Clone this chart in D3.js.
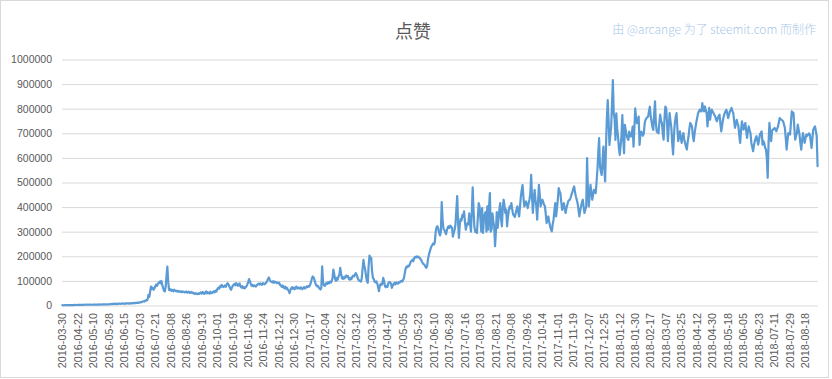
<!DOCTYPE html>
<html>
<head>
<meta charset="utf-8">
<script src="https://cdn.jsdelivr.net/npm/d3@7"></script>
<style>
  html, body { margin: 0; padding: 0; background: #fff; }
  svg { display: block; }
</style>
</head>
<body>
<svg id="chart" width="832" height="379"></svg>
<script>
const title = "点赞";
const credit = "由 @arcange 为了 steemit.com 而制作";

const yTickValues = [0, 100000, 200000, 300000, 400000, 500000, 600000, 700000, 800000, 900000, 1000000];

const xTickLabels = [
  "2016-03-30","2016-04-22","2016-05-10","2016-05-28","2016-06-15","2016-07-03","2016-07-21","2016-08-08",
  "2016-08-26","2016-09-13","2016-10-01","2016-10-19","2016-11-06","2016-11-24","2016-12-12","2016-12-30",
  "2017-01-17","2017-02-04","2017-02-22","2017-03-12","2017-03-30","2017-04-17","2017-05-05","2017-05-23",
  "2017-06-10","2017-06-28","2017-07-16","2017-08-03","2017-08-21","2017-09-08","2017-09-26","2017-10-14",
  "2017-11-01","2017-11-19","2017-12-07","2017-12-25","2018-01-12","2018-01-30","2018-02-17","2018-03-07",
  "2018-03-25","2018-04-12","2018-04-30","2018-05-18","2018-06-05","2018-06-23","2018-07-11","2018-07-29",
  "2018-08-18"
];
const labelEvery = 18;

// daily upvote counts (one per category)
const votes = [
  1200,900,1100,1400,1300,1600,1500,1800,1700,1600,
  2000,1900,2100,1800,2200,2400,2100,2300,2600,2500,
  2800,2600,3000,2700,3100,2900,3300,3000,3400,3200,
  2900,3500,3300,3600,3100,3400,3800,3500,3900,3600,
  4000,3700,4200,3900,4400,4100,3800,4500,4300,4700,
  4200,4600,4900,4400,5100,4800,6200,5400,7100,5800,
  6500,8000,6300,5900,7400,6600,8200,7000,6400,7800,
  9100,7200,6800,8500,7600,9300,8100,7500,9800,8400,
  7900,10200,8800,9500,11000,9200,10600,12100,10400,11500,
  13000,12200,14000,15500,17000,16000,19000,21000,20000,24000,
  43000,35000,57000,77000,68000,72000,64000,70000,78000,85000,
  80000,88000,93000,97000,90000,100000,85000,72000,60000,57000,
  75000,120000,158000,95000,64000,62000,66000,60000,63000,58000,
  64000,61000,58000,60000,56000,59000,57000,55000,58000,54000,
  57000,56000,53000,55000,57000,52000,54000,56000,51000,53000,
  55000,50000,52000,49000,47000,50000,48000,46000,49000,47000,
  51000,53000,48000,55000,50000,47000,52000,57000,49000,54000,
  51000,48000,56000,52000,50000,55000,58000,53000,60000,57000,
  66000,72000,68000,78000,74000,84000,79000,75000,77000,82000,
  76000,85000,91000,86000,78000,70000,64000,72000,80000,84000,
  88000,82000,91000,87000,80000,85000,90000,77000,73000,79000,
  71000,75000,70000,74000,78000,86000,95000,107000,98000,88000,
  80000,84000,78000,82000,79000,77000,83000,86000,89000,85000,
  90000,87000,84000,91000,88000,86000,90000,93000,100000,108000,
  114000,105000,98000,96000,94000,99000,92000,97000,95000,91000,
  94000,90000,93000,84000,80000,76000,82000,74000,70000,77000,
  68000,72000,65000,60000,50000,62000,70000,75000,68000,72000,
  66000,74000,77000,69000,73000,71000,68000,74000,70000,66000,
  72000,75000,69000,73000,78000,75000,80000,77000,84000,95000,
  110000,118000,115000,104000,92000,82000,78000,80000,74000,68000,
  65000,72000,159000,95000,82000,80000,85000,92000,88000,95000,
  90000,97000,93000,99000,110000,146000,128000,108000,100000,112000,
  105000,118000,125000,153000,130000,112000,108000,115000,110000,118000,
  122000,116000,120000,108000,105000,112000,107000,116000,121000,118000,
  124000,132000,126000,115000,105000,102000,99000,97000,110000,150000,
  186000,160000,146000,120000,99000,92000,160000,203000,195000,193000,
  140000,112000,108000,96000,94000,98000,90000,75000,58000,80000,
  88000,84000,90000,112000,100000,78000,74000,80000,76000,92000,
  96000,94000,88000,72000,80000,88000,92000,86000,94000,90000,
  89000,95000,93000,98000,100000,97000,104000,110000,130000,150000,
  158000,155000,162000,160000,168000,178000,182000,186000,180000,192000,
  198000,195000,200000,196000,199000,194000,190000,186000,178000,172000,
  168000,165000,158000,153000,160000,188000,205000,218000,230000,240000,
  245000,252000,248000,258000,300000,318000,322000,312000,295000,285000,
  300000,420000,350000,312000,308000,298000,290000,305000,318000,322000,
  315000,325000,320000,316000,280000,296000,308000,330000,390000,445000,
  340000,275000,330000,352000,345000,368000,360000,383000,340000,308000,
  325000,335000,330000,375000,330000,300000,380000,480000,390000,320000,
  300000,298000,295000,360000,416000,402000,350000,300000,396000,295000,
  350000,370000,380000,300000,403000,308000,400000,457000,300000,310000,
  375000,340000,322000,241000,300000,380000,315000,350000,390000,416000,
  350000,322000,400000,430000,405000,376000,390000,322000,360000,385000,
  403000,395000,416000,390000,370000,365000,360000,375000,390000,403000,
  380000,362000,400000,443000,470000,490000,440000,403000,415000,423000,
  410000,396000,415000,430000,455000,531000,440000,376000,430000,470000,
  430000,403000,349000,420000,490000,450000,403000,418000,430000,420000,
  410000,403000,370000,335000,350000,362000,340000,322000,310000,301000,
  330000,349000,385000,416000,362000,395000,430000,477000,465000,457000,
  420000,389000,400000,416000,395000,376000,395000,410000,423000,428000,
  430000,440000,452000,463000,475000,484000,460000,443000,430000,416000,
  390000,362000,385000,403000,418000,430000,400000,376000,390000,403000,
  599000,470000,403000,450000,490000,460000,430000,450000,470000,462000,
  457000,500000,551000,620000,680000,565000,545000,531000,590000,646000,
  560000,504000,646000,760000,835000,754000,653000,690000,727000,820000,
  916000,781000,760000,673000,781000,720000,687000,640000,612000,650000,
  687000,774000,680000,619000,734000,710000,693000,680000,673000,707000,
  695000,687000,700000,727000,646000,720000,801000,760000,741000,755000,
  768000,653000,690000,707000,700000,690000,700000,741000,755000,761000,
  765000,768000,790000,808000,770000,747000,725000,714000,780000,830000,
  740000,707000,704000,700000,741000,776000,750000,742000,700000,674000,
  760000,809000,803000,740000,668000,730000,782000,750000,722000,660000,
  614000,690000,742000,765000,782000,720000,668000,690000,708000,680000,
  661000,685000,701000,675000,661000,645000,634000,665000,688000,720000,
  742000,735000,728000,690000,668000,700000,722000,745000,762000,780000,
  789000,796000,790000,789000,823000,800000,789000,809000,795000,782000,
  728000,770000,803000,755000,780000,796000,788000,782000,775000,769000,
  755000,749000,762000,770000,776000,740000,708000,730000,755000,770000,
  782000,790000,796000,780000,762000,775000,789000,795000,803000,790000,
  782000,750000,722000,740000,755000,740000,728000,690000,661000,710000,
  749000,730000,715000,730000,742000,710000,681000,710000,728000,712000,
  701000,661000,645000,627000,650000,668000,680000,688000,670000,654000,
  675000,695000,702000,708000,654000,668000,660000,641000,634000,600000,
  519000,661000,742000,705000,668000,708000,715000,718000,722000,715000,
  708000,718000,728000,745000,762000,758000,755000,752000,749000,735000,
  722000,680000,634000,670000,701000,698000,695000,740000,789000,785000,
  782000,722000,674000,690000,701000,735000,715000,695000,660000,634000,
  670000,701000,680000,661000,680000,695000,690000,695000,700000,695000,
  668000,641000,680000,715000,722000,728000,710000,688000,566000
];

const categories = votes.map((_, i) => i);

const svg = d3.select("#chart");
const plot = { left: 62, right: 818, top: 59.5, bottom: 305.5 };

// outer border
svg.append("rect")
  .attr("x", 0.5).attr("y", 0.5)
  .attr("width", 828).attr("height", 377)
  .attr("fill", "#fff").attr("stroke", "#d9d9d9").attr("stroke-width", 1);

const x = d3.scaleBand().domain(categories).range([plot.left, plot.right]).padding(0);
const y = d3.scaleLinear().domain([0, 1000000]).range([plot.bottom, plot.top]);

// y axis with gridlines
const yAxis = d3.axisLeft(y)
  .tickValues(yTickValues)
  .tickFormat(d => String(d))
  .tickSize(-(plot.right - plot.left))
  .tickPadding(10);

const gy = svg.append("g")
  .attr("transform", `translate(${plot.left},0)`)
  .call(yAxis);
gy.select(".domain").remove();
gy.selectAll(".tick line").attr("stroke", "#d9d9d9").attr("stroke-width", 1);
gy.selectAll(".tick text")
  .attr("fill", "#595959")
  .style("font-family", "'Liberation Sans', Arial, sans-serif")
  .style("font-size", "10.5px");

// x axis labels (every 18th category)
const xLabelData = xTickLabels.map((t, k) => ({ t, i: k * labelEvery }));
svg.append("g").selectAll("text")
  .data(xLabelData)
  .join("text")
  .attr("transform", d => `translate(${x(d.i) + x.bandwidth() / 2},313) rotate(-90)`)
  .attr("text-anchor", "end")
  .attr("dy", "0.35em")
  .attr("fill", "#595959")
  .style("font-family", "'Liberation Sans', Arial, sans-serif")
  .style("font-size", "10.8px")
  .text(d => d.t);

// line
const line = d3.line()
  .x((d, i) => x(i) + x.bandwidth() / 2)
  .y(d => y(d));

svg.append("path")
  .datum(votes)
  .attr("d", line)
  .attr("fill", "none")
  .attr("stroke", "#5b9bd5")
  .attr("stroke-width", 2.2)
  .attr("stroke-linejoin", "round")
  .attr("stroke-linecap", "round");

// title
svg.append("text")
  .attr("x", 413).attr("y", 38)
  .attr("text-anchor", "middle")
  .attr("fill", "#595959")
  .style("font-family", "'Noto Sans CJK SC', sans-serif")
  .style("font-size", "18px")
  .text(title);

// credit
svg.append("text")
  .attr("x", 816).attr("y", 34)
  .attr("text-anchor", "end")
  .attr("fill", "#a7c8e8")
  .style("font-family", "'Noto Sans CJK SC', sans-serif")
  .style("font-weight", "300")
  .style("font-size", "12px")
  .text(credit);
</script>
</body>
</html>
